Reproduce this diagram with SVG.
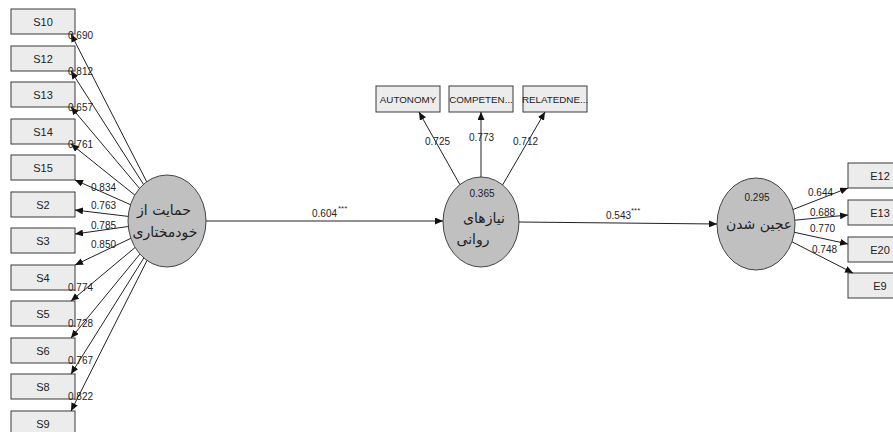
<svg xmlns="http://www.w3.org/2000/svg" width="893" height="432" viewBox="0 0 893 432">
<defs>
<marker id="arr" markerUnits="userSpaceOnUse" markerWidth="8" markerHeight="7" refX="8" refY="3.5" orient="auto">
<path d="M0,0 L8,3.5 L0,7 z" fill="#111"/>
</marker>
<style>
.box{fill:#ececec;stroke:#3a3a3a;stroke-width:1}
.lv{fill:#c0c0c0;stroke:#444;stroke-width:1}
.bl{font-family:"Liberation Sans",Arial,sans-serif;font-size:11px;fill:#222;text-anchor:middle}
.tl{font-family:"Liberation Sans",Arial,sans-serif;font-size:9.8px;fill:#222;text-anchor:middle}
.num{font-family:"Liberation Sans",Arial,sans-serif;font-size:10px;fill:#222}
.star{font-family:"Liberation Sans",Arial,sans-serif;font-size:8px;fill:#333}
.ar{font-family:"DejaVu Sans","Noto Sans",sans-serif;font-size:14px;fill:#222;text-anchor:middle}
.cn{stroke:#222;stroke-width:1;fill:none;marker-end:url(#arr)}
</style>
</defs>
<rect width="893" height="432" fill="#fff"/>
<g id="S10"><rect class="box" x="11" y="9" width="64" height="25"/><text class="bl" x="43" y="25.5">S10</text></g>
<g id="S12"><rect class="box" x="11" y="46" width="64" height="25"/><text class="bl" x="43" y="62.5">S12</text></g>
<g id="S13"><rect class="box" x="11" y="82" width="64" height="25"/><text class="bl" x="43" y="98.5">S13</text></g>
<g id="S14"><rect class="box" x="11" y="119" width="64" height="25"/><text class="bl" x="43" y="135.5">S14</text></g>
<g id="S15"><rect class="box" x="11" y="155" width="64" height="25"/><text class="bl" x="43" y="171.5">S15</text></g>
<g id="S2"><rect class="box" x="11" y="192" width="64" height="25"/><text class="bl" x="43" y="208.5">S2</text></g>
<g id="S3"><rect class="box" x="11" y="228" width="64" height="25"/><text class="bl" x="43" y="244.5">S3</text></g>
<g id="S4"><rect class="box" x="11" y="265" width="64" height="25"/><text class="bl" x="43" y="281.5">S4</text></g>
<g id="S5"><rect class="box" x="11" y="301" width="64" height="25"/><text class="bl" x="43" y="317.5">S5</text></g>
<g id="S6"><rect class="box" x="11" y="338" width="64" height="25"/><text class="bl" x="43" y="354.5">S6</text></g>
<g id="S8"><rect class="box" x="11" y="374" width="64" height="25"/><text class="bl" x="43" y="390.5">S8</text></g>
<g id="S9"><rect class="box" x="11" y="411" width="64" height="25"/><text class="bl" x="43" y="427.5">S9</text></g>
<g id="AUTONOMY"><rect class="box" x="376" y="86" width="64" height="26"/><text class="tl" x="408" y="102.5">AUTONOMY</text></g>
<g id="COMPETENCE"><rect class="box" x="449" y="86" width="64" height="26"/><text class="tl" x="481" y="102.5">COMPETEN...</text></g>
<g id="RELATEDNESS"><rect class="box" x="523" y="86" width="64" height="26"/><text class="tl" x="555" y="102.5">RELATEDNE...</text></g>
<g id="E12"><rect class="box" x="848" y="163" width="64" height="25"/><text class="bl" x="880" y="179.5">E12</text></g>
<g id="E13"><rect class="box" x="848" y="200" width="64" height="25"/><text class="bl" x="880" y="216.5">E13</text></g>
<g id="E20"><rect class="box" x="848" y="237" width="64" height="25"/><text class="bl" x="880" y="253.5">E20</text></g>
<g id="E9"><rect class="box" x="848" y="273" width="64" height="25"/><text class="bl" x="880" y="289.5">E9</text></g>
<g id="autonomy_support"><ellipse class="lv" cx="167" cy="221" rx="39" ry="46"/><text class="ar" x="164" y="215">حمایت از</text><text class="ar" x="165" y="237">خودمختاری</text></g>
<g id="psych_needs"><ellipse class="lv" cx="481" cy="222" rx="38" ry="45"/><text class="num" x="482" y="197" text-anchor="middle">0.365</text><text class="ar" x="484" y="223">نیازهای</text><text class="ar" x="473" y="244">روانی</text></g>
<g id="engagement"><ellipse class="lv" cx="756" cy="224" rx="39" ry="46"/><text class="num" x="757" y="201" text-anchor="middle">0.295</text><text class="ar" x="759" y="229">عجین شدن</text></g>
<g id="connectors">
<line class="cn" x1="146.7" y1="181.7" x2="71" y2="34"/>
<line class="cn" x1="143.5" y1="184.3" x2="71" y2="71"/>
<line class="cn" x1="139.5" y1="188.4" x2="71" y2="107"/>
<line class="cn" x1="134.8" y1="195.1" x2="71" y2="144"/>
<line class="cn" x1="130.5" y1="204.7" x2="75" y2="180"/>
<line class="cn" x1="128.2" y1="216.4" x2="75" y2="210"/>
<line class="cn" x1="128.3" y1="226.5" x2="75" y2="234"/>
<line class="cn" x1="130.9" y1="238.3" x2="75" y2="265"/>
<line class="cn" x1="135.1" y1="247.5" x2="71" y2="301"/>
<line class="cn" x1="139.9" y1="254.1" x2="71" y2="338"/>
<line class="cn" x1="143.8" y1="258.0" x2="71" y2="374"/>
<line class="cn" x1="147" y1="260.5" x2="71" y2="411"/>
<line class="cn" x1="206" y1="221" x2="443" y2="221"/>
<line class="cn" x1="519" y1="222" x2="717" y2="224"/>
<line class="cn" x1="459.9" y1="184.6" x2="419" y2="112"/>
<line class="cn" x1="481" y1="177" x2="481" y2="112"/>
<line class="cn" x1="502.6" y1="184.9" x2="545" y2="112"/>
<line class="cn" x1="793" y1="209.5" x2="848" y2="188"/>
<line class="cn" x1="794.9" y1="220.2" x2="848" y2="215"/>
<line class="cn" x1="794.4" y1="232.3" x2="848" y2="244"/>
<line class="cn" x1="792" y1="241.8" x2="853" y2="273"/>
<text class="num" x="68" y="39">0.690</text>
<text class="num" x="68" y="75">0.812</text>
<text class="num" x="68" y="111">0.657</text>
<text class="num" x="68" y="148">0.761</text>
<text class="num" x="91" y="191">0.834</text>
<text class="num" x="91" y="209">0.763</text>
<text class="num" x="91" y="229">0.785</text>
<text class="num" x="91" y="248">0.850</text>
<text class="num" x="68" y="291">0.774</text>
<text class="num" x="68" y="327">0.728</text>
<text class="num" x="68" y="364">0.767</text>
<text class="num" x="68" y="400">0.822</text>
<text class="num" x="425" y="145">0.725</text>
<text class="num" x="469" y="141">0.773</text>
<text class="num" x="513" y="145">0.712</text>
<text class="num" x="312" y="217">0.604</text>
<text class="star" x="338" y="211">***</text>
<text class="num" x="606" y="219">0.543</text>
<text class="star" x="631" y="213">***</text>
<text class="num" x="808" y="196">0.644</text>
<text class="num" x="810" y="216">0.688</text>
<text class="num" x="810" y="232">0.770</text>
<text class="num" x="812" y="253">0.748</text>
</g>
</svg>
